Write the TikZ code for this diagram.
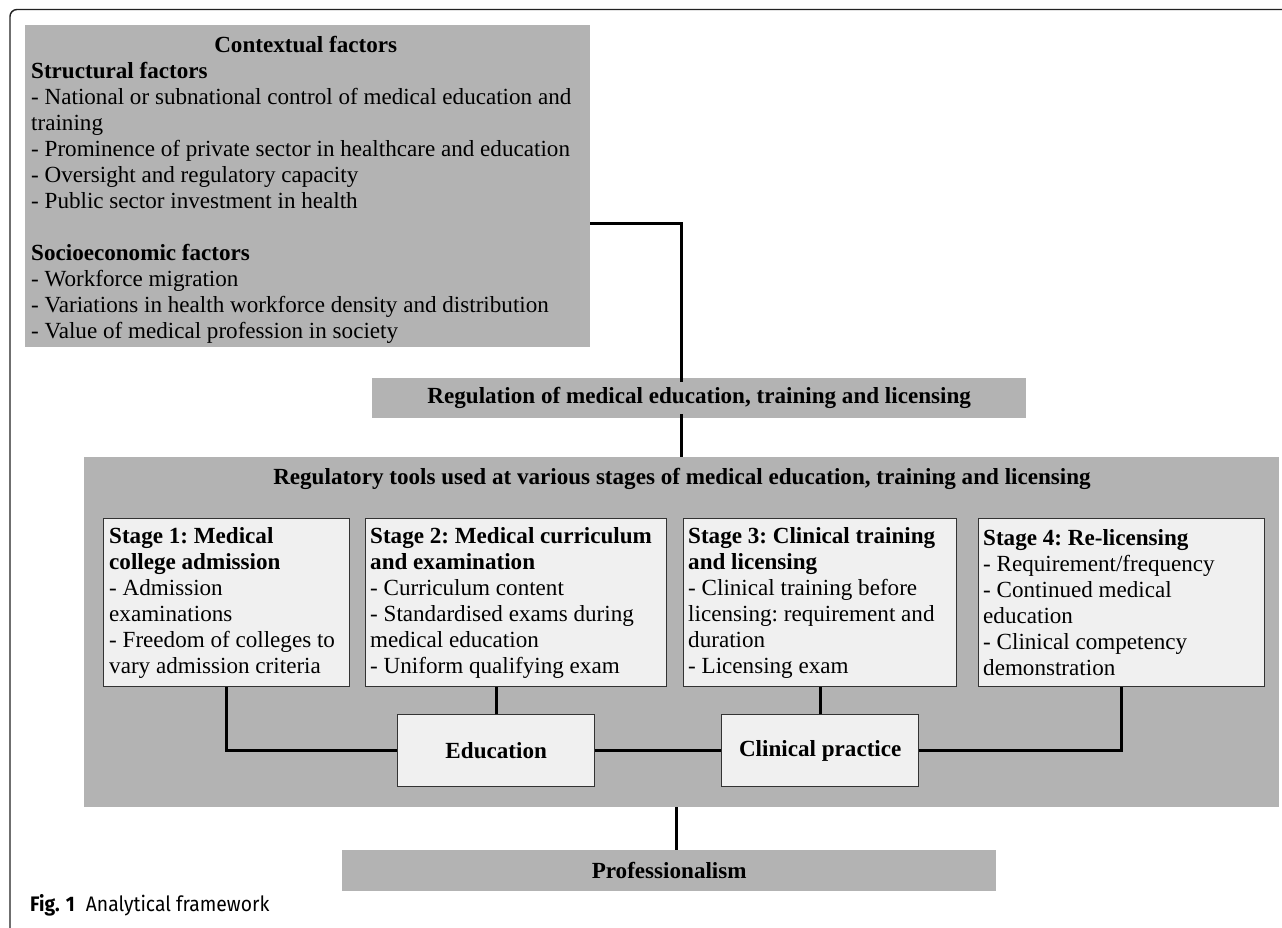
\documentclass[tikz,border=0pt]{standalone}
\usepackage{fontspec}
\setmainfont{Liberation Serif}
\newfontfamily\capfont{Fira Sans}
\definecolor{boxgrey}{HTML}{B3B3B3}
\definecolor{stagefill}{HTML}{F0F0F0}
\definecolor{framecol}{HTML}{222222}
\definecolor{stageline}{HTML}{333333}
\newcommand{\txt}{\fontsize{23.1}{26}\selectfont\frenchspacing}
\begin{document}
\begin{tikzpicture}[x=1pt,y=-1pt,
  greybox/.style={fill=boxgrey, draw=none, inner sep=0pt, anchor=north west, font=\txt\bfseries},
  stagebox/.style={fill=stagefill, draw=stageline, line width=1.4pt, anchor=north west,
                   inner sep=0pt, minimum height=168pt},
  bodytext/.style={anchor=west, inner sep=0pt, align=left, font=\txt},
  hubbox/.style={fill=stagefill, draw=stageline, line width=1.4pt, anchor=north west,
                 inner sep=0pt, minimum width=197pt, minimum height=72pt, font=\txt\bfseries},
  conn/.style={line width=3pt, black},
  txtnode/.style={inner sep=0pt, font=\txt\bfseries}
]
\useasboundingbox (0,0) rectangle (1282,927);
\fill[white] (0,0) rectangle (1282,927);

% outer frame
\draw[framecol, line width=1.4pt, rounded corners=7pt] (1290,9.5) -- (10,9.5) -- (10,935);

% contextual factors
\node[greybox, minimum width=565pt, minimum height=322pt] (ctx) at (25,25) {};
\node[bodytext] (ctxt) at ([xshift=6pt,yshift=-4pt]ctx.west)
 {\makebox[549pt][c]{\bfseries Contextual factors}\\
  \textbf{Structural factors}\\
  - National or subnational control of medical education and\\
  training\\
  - Prominence of private sector in healthcare and education\\
  - Oversight and regulatory capacity\\
  - Public sector investment in health\\
  \mbox{}\\
  \textbf{Socioeconomic factors}\\
  - Workforce migration\\
  - Variations in health workforce density and distribution\\
  - Value of medical profession in society};

% regulation
\node[greybox, minimum width=654pt, minimum height=40pt] (reg) at (372,378)
 {Regulation of medical education, training and licensing};

% big box
\node[greybox, minimum width=1195pt, minimum height=350pt] (big) at (84,457) {};
\node[txtnode] (bigtitle) at (682,479)
 {Regulatory tools used at various stages of medical education, training and licensing};

% stages
\node[stagebox, minimum width=246pt] (s1) at (103,518) {};
\node[bodytext] (s1t) at ([xshift=6pt]s1.west)
 {\textbf{Stage 1: Medical}\\ \textbf{college admission}\\ - Admission\\ examinations\\
  - Freedom of colleges to\\ vary admission criteria};
\node[stagebox, minimum width=301pt] (s2) at (365,518) {};
\node[bodytext] (s2t) at ([xshift=5pt]s2.west)
 {\textbf{Stage 2: Medical curriculum}\\ \textbf{and examination}\\ - Curriculum content\\
  - Standardised exams during\\ medical education\\ - Uniform qualifying exam};
\node[stagebox, minimum width=273pt] (s3) at (683,518) {};
\node[bodytext] (s3t) at ([xshift=5pt]s3.west)
 {\textbf{Stage 3: Clinical training}\\ \textbf{and licensing}\\ - Clinical training before\\
  licensing: requirement and\\ duration\\ - Licensing exam};
\node[stagebox, minimum width=286pt] (s4) at (978,518) {};
\node[bodytext] (s4t) at ([xshift=5pt]s4.west)
 {\textbf{Stage 4: Re-licensing}\\ - Requirement/frequency\\ - Continued medical\\
  education\\ - Clinical competency\\ demonstration};

% hubs
\node[hubbox] (edu) at (397,714) {Education};
\node[hubbox] (clin) at (721,714) {Clinical practice};

% professionalism
\node[greybox, minimum width=654pt, minimum height=41pt] (prof) at (342,850) {Professionalism};

% connectors
\coordinate (bend) at (681,223);
\coordinate (down) at (676,0);
\draw[conn] (ctx.east |- bend) -- (bend) -- ([yshift=-4pt]bend |- reg.north);
\draw[conn] ([yshift=4pt]bend |- reg.south) -- (bend |- big.north);
\draw[conn] (s1.south) |- (edu.west);
\draw[conn] (edu.north) -- (edu.north |- s2.south);
\draw[conn] (edu.east) -- (clin.west);
\draw[conn] (clin.north) -- (clin.north |- s3.south);
\draw[conn] (s4.south) |- (clin.east);
\draw[conn] (down |- big.south) -- (down |- prof.north);

% caption
\node[anchor=base west, inner sep=0pt, font=\capfont\fontsize{21}{24}\selectfont] (cap) at (30,911)
 {\scalebox{0.92}[1]{\textbf{Fig. 1}\hspace{12pt}Analytical framework}};
\end{tikzpicture}
\end{document}
